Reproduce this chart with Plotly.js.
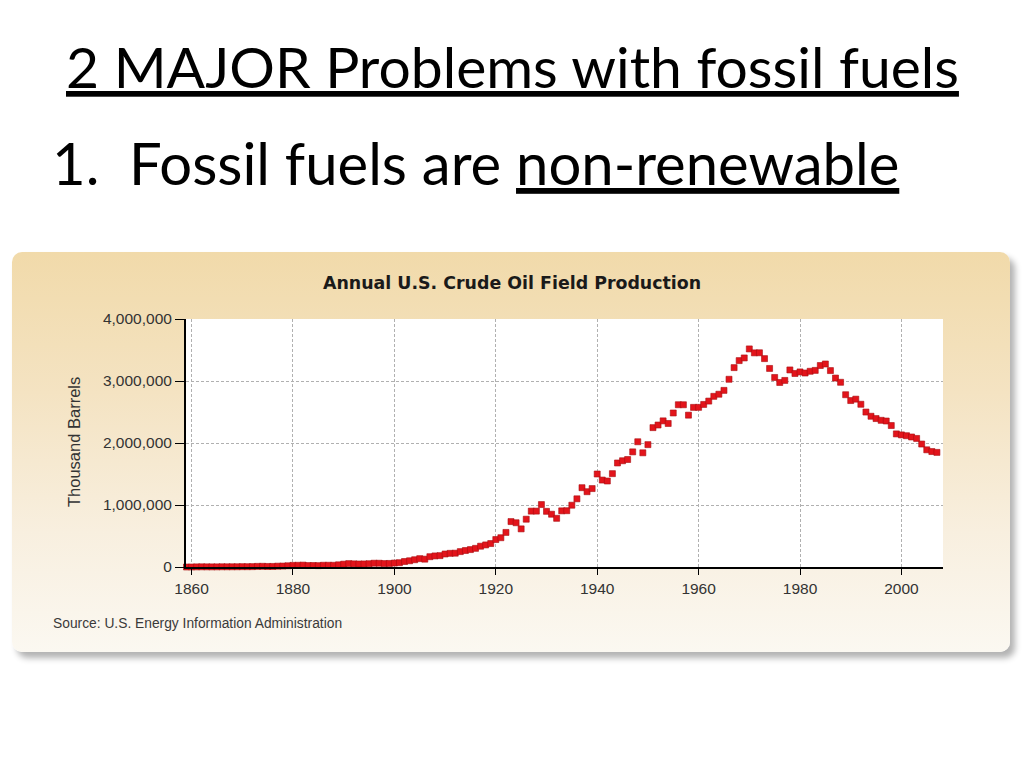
<!DOCTYPE html>
<html>
<head>
<meta charset="utf-8">
<script src="https://cdn.plot.ly/plotly-3.0.1.min.js"></script>
<style>
html,body{margin:0;padding:0;background:#ffffff;width:1024px;height:768px;overflow:hidden;}
#panel{position:absolute;left:12px;top:252px;width:998px;height:400px;border-radius:10px;
background:linear-gradient(180deg,#f1daaa 0%,#f4e3c2 35%,#f8efdf 70%,#fbf8f1 100%);
box-shadow:5px 6px 6px rgba(0,0,0,0.30);}
#chart{position:absolute;left:0;top:0;width:1024px;height:768px;}
</style>
</head>
<body>
<div id="panel"></div>
<div id="chart"></div>
<script>
// ---- data (thousand barrels) ----
var years = [1859,1860,1861,1862,1863,1864,1865,1866,1867,1868,1869,
1870,1871,1872,1873,1874,1875,1876,1877,1878,1879,
1880,1881,1882,1883,1884,1885,1886,1887,1888,1889,
1890,1891,1892,1893,1894,1895,1896,1897,1898,1899,
1900,1901,1902,1903,1904,1905,1906,1907,1908,1909,
1910,1911,1912,1913,1914,1915,1916,1917,1918,1919,
1920,1921,1922,1923,1924,1925,1926,1927,1928,1929,
1930,1931,1932,1933,1934,1935,1936,1937,1938,1939,
1940,1941,1942,1943,1944,1945,1946,1947,1948,1949,
1950,1951,1952,1953,1954,1955,1956,1957,1958,1959,
1960,1961,1962,1963,1964,1965,1966,1967,1968,1969,
1970,1971,1972,1973,1974,1975,1976,1977,1978,1979,
1980,1981,1982,1983,1984,1985,1986,1987,1988,1989,
1990,1991,1992,1993,1994,1995,1996,1997,1998,1999,
2000,2001,2002,2003,2004,2005,2006,2007];

var production = [2,500,2114,3057,2611,2116,2498,3598,3347,3646,4215,
5261,5205,6293,9894,10927,8788,9133,13350,15397,19914,
26286,27661,30350,23450,24218,21859,28065,28283,27612,35164,
45824,54293,50515,48431,49344,52892,60960,60476,55364,57071,
63621,69389,88767,100461,117081,134717,126494,166095,178527,183171,
209557,220449,222935,248446,265763,281104,300767,335316,355928,378367,
442929,472183,557531,732407,713940,615000,770874,901129,901474,1007323,
898011,851081,785159,905656,908065,996596,1099687,1279160,1214355,1264962,
1500000,1402228,1386645,1505613,1677904,1713655,1733939,1856987,2020185,1841940,
1973574,2247711,2289836,2357082,2314988,2484428,2617283,2616901,2448987,2574590,
2574933,2621758,2676189,2752723,2786822,2848514,3027763,3215742,3329042,3371751,
3517450,3453914,3455368,3360903,3202585,3056779,2976180,3009265,3178216,3121310,
3146365,3128624,3156715,3170999,3249696,3274553,3168252,3047378,2979123,2778773,
2684687,2707039,2624632,2499033,2431476,2394268,2366017,2354831,2281919,2146732,
2130707,2117511,2097124,2073453,1983302,1890106,1862259,1848450];

var xTickVals = [1860,1880,1900,1920,1940,1960,1980,2000];
var xTickText = ['1860','1880','1900','1920','1940','1960','1980','2000'];
var yTickVals = [0,1000000,2000000,3000000,4000000];
var yTickText = ['0','1,000,000','2,000,000','3,000,000','4,000,000'];

var slideTitle = '2 MAJOR Problems with fossil fuels';
var slidePoint = '1.&nbsp; Fossil fuels are <u>non-renewable</u>';
var chartTitle = 'Annual U.S. Crude Oil Field Production';
var yTitle = 'Thousand Barrels';
var sourceText = 'Source: U.S. Energy Information Administration';

// ---- layout helpers (pixel -> paper) ----
var L = 186, R = 943, T = 319, B = 567;
function px(x){ return (x - L) / (R - L); }
function py(y){ return (B - y) / (B - T); }

var trace = {
  x: years, y: production, type: 'scatter', mode: 'markers',
  marker: {symbol: 'square', size: 6, color: '#e3141b', line: {color: '#a80d10', width: 0.6}},
  cliponaxis: false, hoverinfo: 'x+y'
};

var axFont = {family: 'Liberation Sans, Arial, sans-serif', size: 15.5, color: '#333333'};

var layout = {
  width: 1024, height: 768,
  margin: {l: L, r: 1024 - R, t: T, b: 768 - B, pad: 0},
  paper_bgcolor: 'rgba(0,0,0,0)', plot_bgcolor: '#ffffff',
  showlegend: false,
  xaxis: {
    range: [1858.9, 2008.2], tickvals: xTickVals, ticktext: xTickText,
    showgrid: true, gridcolor: '#b0b0b0', griddash: '3px,2px', gridwidth: 1,
    showline: true, linecolor: '#000000', linewidth: 2, mirror: false,
    ticks: 'outside', ticklen: 6, tickcolor: '#000000', tickwidth: 1,
    zeroline: false, tickfont: axFont, fixedrange: true
  },
  yaxis: {
    range: [0, 4000000], tickvals: yTickVals, ticktext: yTickText,
    showgrid: true, gridcolor: '#b0b0b0', griddash: '3px,2px', gridwidth: 1,
    showline: true, linecolor: '#000000', linewidth: 2,
    ticks: 'outside', ticklen: 9, tickcolor: '#000000', tickwidth: 1,
    zeroline: false, tickfont: axFont, fixedrange: true
  },
  annotations: [
    {text: '<u>' + slideTitle + '</u>', xref: 'paper', yref: 'paper', x: px(512), y: py(66),
     xanchor: 'center', yanchor: 'middle', showarrow: false,
     font: {family: 'Lato, Carlito, sans-serif', size: 57, color: '#000000'}},
    {text: slidePoint, xref: 'paper', yref: 'paper', x: px(50), y: py(162),
     xanchor: 'left', yanchor: 'middle', showarrow: false,
     font: {family: 'Lato, Carlito, sans-serif', size: 58, color: '#000000'}},
    {text: '<b>' + chartTitle + '</b>', xref: 'paper', yref: 'paper', x: px(512), y: py(283),
     xanchor: 'center', yanchor: 'middle', showarrow: false,
     font: {family: 'DejaVu Sans, Verdana, sans-serif', size: 17.4, color: '#1a1a1a'}},
    {text: yTitle, xref: 'paper', yref: 'paper', x: px(74), y: py(442), textangle: -90,
     xanchor: 'center', yanchor: 'middle', showarrow: false,
     font: {family: 'Liberation Sans, Arial, sans-serif', size: 16.5, color: '#333333'}},
    {text: sourceText, xref: 'paper', yref: 'paper', x: px(51), y: py(623),
     xanchor: 'left', yanchor: 'middle', showarrow: false,
     font: {family: 'Liberation Sans, Arial, sans-serif', size: 13.8, color: '#3a3a3a'}}
  ]
};

Plotly.newPlot('chart', [trace], layout, {displayModeBar: false, staticPlot: true});
</script>
</body>
</html>
